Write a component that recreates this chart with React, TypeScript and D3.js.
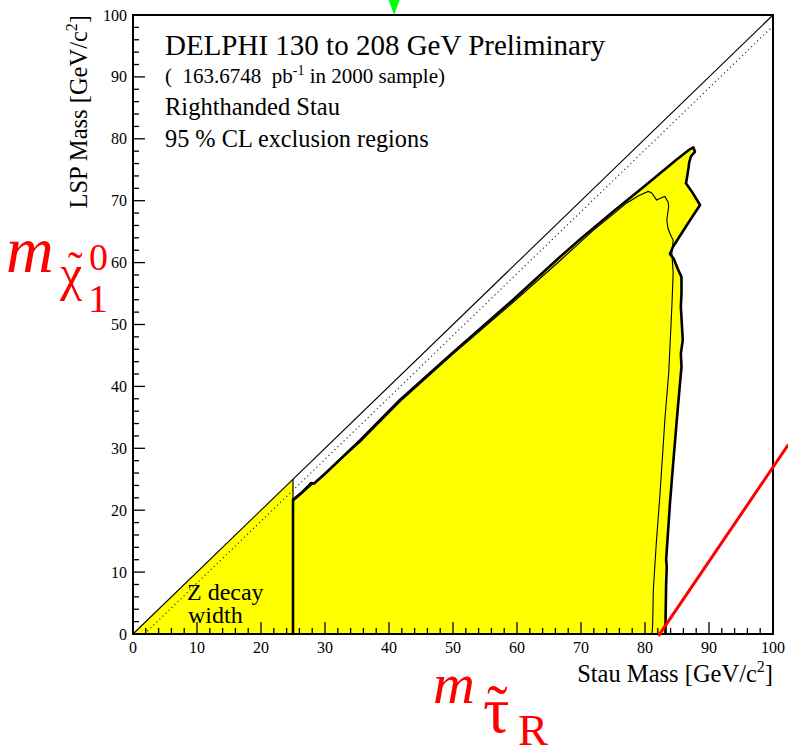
import React from 'react';
import * as d3 from 'd3';

const W = 788;
const H = 748;

// axis domains and ticks
const xDomain: [number, number] = [0, 100];
const yDomain: [number, number] = [0, 100];
const majorTicks = [0, 10, 20, 30, 40, 50, 60, 70, 80, 90, 100];
const tickLabels = ['0', '10', '20', '30', '40', '50', '60', '70', '80', '90', '100'];
const minorTicks = d3.range(0, 101, 2);

// kinematic lines
const diagonalLine: [number, number][] = [[0, 0], [100, 100]];
const tauMass = 1.777;
const dottedLine: [number, number][] = [[tauMass, 0], [100, 100 - tauMass]];

// Z decay width excluded triangle
const zWidthRegion: [number, number][] = [[0, 0], [25, 25], [25, 0]];
const zEdgeUpper: [number, number][] = [[25, 21.7], [25, 25]];

// observed 95% CL exclusion contour (thick)
const outerContour: [number, number][] = [
  [25, 0], [25, 21.7], [26.5, 23.0], [27.4, 23.9], [27.8, 24.4], [28.3, 24.3], [30, 25.9],
  [35.5, 31.3], [41.7, 37.8], [50, 45.5], [59.4, 54.0], [66.7, 60.9], [70, 63.9],
  [75, 68.2], [80, 72.4], [85, 76.7], [87, 78.3], [87.55, 78.6], [87.8, 77.9],
  [87.2, 77.2], [86.9, 76.2], [86.8, 75.3], [86.6, 74.0], [86.4, 72.8], [87.3, 71.5],
  [88.6, 69.3], [86.5, 66.0], [84.4, 62.6], [83.9, 61.4], [84.5, 60.6], [84.8, 59.8],
  [85.2, 58.8], [85.7, 57.7], [85.7, 55.0], [85.6, 52.9], [85.9, 47.5], [85.6, 45.3],
  [85.7, 43.2], [85.3, 38.5], [85.0, 35.0], [84.6, 30.0], [84.2, 25.0], [83.9, 21.1],
  [83.5, 15.0], [83.3, 12.0], [83.4, 10.9], [83.3, 8.0], [83.2, 1.5], [83.2, 0]
];

// second (thin) contour
const innerContour: [number, number][] = [
  [25.2, 21.6], [30, 26.0], [35.5, 31.0], [41.7, 37.5], [50, 45.2], [59.4, 53.6],
  [66.7, 60.3], [72, 65.3], [75, 67.8], [77.1, 69.6], [79, 70.8], [80.5, 71.5],
  [81.0, 71.3], [81.3, 70.9], [81.8, 70.1], [82.4, 70.4], [83.1, 70.7], [83.6, 69.8],
  [83.7, 69.1], [83.4, 66.9], [83.6, 65.5], [83.9, 64.7], [84.4, 63.6], [84.3, 62.5],
  [84.2, 61.5], [84.4, 58.3], [84.2, 52.9], [83.7, 42.1], [83.1, 34.6], [82.9, 31.3],
  [82.3, 22.0], [81.8, 15.2], [81.6, 12.0], [81.3, 7.1], [81.2, 1.5], [81.1, 0]
];

// red line and green marker
const redLine: [number, number][] = [[82.1, -0.3], [102.4, 30.6]];
const greenMarkerX = 40.8;

const SERIF = '"Liberation Serif", "Times New Roman", Times, serif';

export default function App() {
  const x = d3.scaleLinear().domain(xDomain).range([133, 773]);
  const y = d3.scaleLinear().domain(yDomain).range([634, 15]);
  const line = d3.line<[number, number]>().x(d => x(d[0])).y(d => y(d[1]));
  const x0 = x(0), y0 = y(0), x1 = x(100), y1 = y(100);

  return (
    <svg width={W} height={H} style={{ position: 'absolute', left: 0, top: 0, display: 'block', background: '#fff' }}
      fontFamily={SERIF}>
      {/* fills */}
      <path d={line(zWidthRegion)! + 'Z'} fill="#ffff00" stroke="none" />
      <path d={line(outerContour)! + 'Z'} fill="#ffff00" stroke="none" />

      {/* kinematic lines */}
      <path d={line(diagonalLine)!} stroke="#000" strokeWidth={1.1} fill="none" />
      <path d={line(dottedLine)!} stroke="#333" strokeWidth={1.2} strokeDasharray="1.2,3" fill="none" />

      {/* contours */}
      <path d={line(zEdgeUpper)!} stroke="#000" strokeWidth={1.2} fill="none" />
      <path d={line(innerContour)!} stroke="#000" strokeWidth={1.1} fill="none" />
      <path d={line(outerContour)!} stroke="#000" strokeWidth={2.6} fill="none" strokeLinejoin="round" />

      {/* frame */}
      <rect x={x0} y={y1} width={x1 - x0} height={y0 - y1} fill="none" stroke="#000" strokeWidth={2} />

      {/* ticks */}
      {minorTicks.map(t => {
        const major = t % 10 === 0;
        const len = major ? 12 : 6;
        return (
          <g key={'t' + t}>
            <line x1={x(t)} x2={x(t)} y1={y0} y2={y0 - len} stroke="#000" strokeWidth={1.3} />
            <line x1={x0} x2={x0 + len} y1={y(t)} y2={y(t)} stroke="#000" strokeWidth={1.3} />
          </g>
        );
      })}

      {/* tick labels */}
      {majorTicks.map((t, i) => (
        <g key={'l' + t} fontSize={16}>
          <text x={x(t)} y={y0 + 19} textAnchor="middle">{tickLabels[i]}</text>
          <text x={x0 - 6} y={y(t) + 5.5} textAnchor="end">{tickLabels[i]}</text>
        </g>
      ))}

      {/* axis titles */}
      <text x={x1} y={682} textAnchor="end" fontSize={24.5}>
        Stau Mass [GeV/c<tspan dy={-10} fontSize={16}>2</tspan><tspan dy={10}>]</tspan>
      </text>
      <text transform={`translate(87,${y1}) rotate(-90)`} textAnchor="end" fontSize={24.5}>
        LSP Mass [GeV/c<tspan dy={-10} fontSize={16}>2</tspan><tspan dy={10}>]</tspan>
      </text>

      {/* header texts */}
      <text x={165} y={55} fontSize={29}>DELPHI 130 to 208 GeV Preliminary</text>
      <text x={165} y={83} fontSize={21} style={{ whiteSpace: 'pre' }}>
        {'(  163.6748  pb'}<tspan dy={-8} fontSize={14}>-1</tspan><tspan dy={8}>{' in 2000 sample)'}</tspan>
      </text>
      <text x={165} y={115} fontSize={24.5}>Righthanded Stau</text>
      <text x={165} y={147} fontSize={24.3}>95 % CL exclusion regions</text>

      <text x={187} y={600} fontSize={24}>Z decay</text>
      <text x={188} y={623} fontSize={24}>width</text>

      {/* red line */}
      <path d={line(redLine)!} stroke="#ff0000" strokeWidth={3} fill="none" />

      {/* green marker */}
      <path d={`M${x(greenMarkerX) - 5.5},0 L${x(greenMarkerX) + 5.5},0 L${x(greenMarkerX)},${y1}Z`} fill="#00ff00" />

      {/* red labels */}
      <g fill="#ff0000">
        <text x={6} y={272} fontSize={66} fontStyle="italic">m</text>
        <text x={60} y={290} fontSize={50}>χ</text>
        <text x={68} y={282} fontSize={44}>˜</text>
        <text x={89} y={270} fontSize={38}>0</text>
        <text x={88} y={312} fontSize={40}>1</text>

        <text x={433} y={703} fontSize={58} fontStyle="italic">m</text>
        <text x={483} y={732} fontSize={66}>τ</text>
        <text x={487} y={728} fontSize={62}>˜</text>
        <text x={518} y={745} fontSize={45}>R</text>
      </g>
    </svg>
  );
}
